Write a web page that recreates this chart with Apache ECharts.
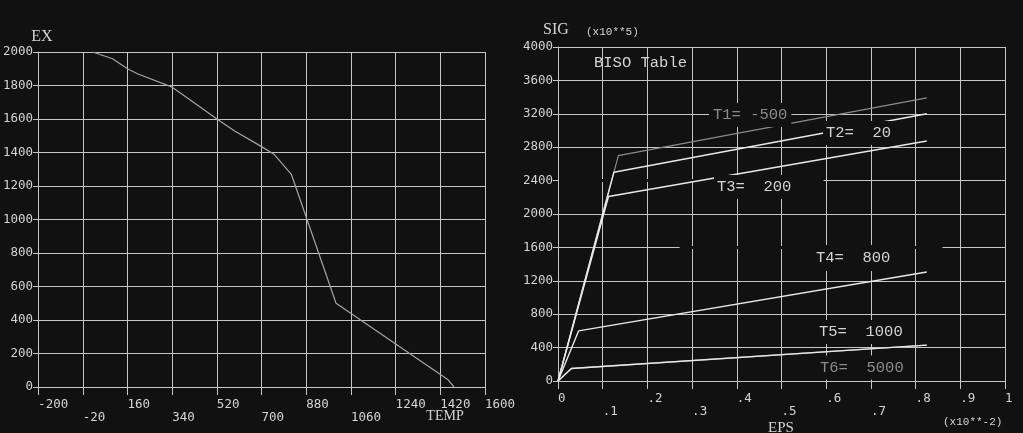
<!DOCTYPE html>
<html>
<head>
<meta charset="utf-8">
<script src="https://cdn.jsdelivr.net/npm/echarts/dist/echarts.min.js"></script>
<style>
html,body{margin:0;padding:0;background:#111111;}
#chart{width:1023px;height:433px;}
</style>
</head>
<body>
<div id="chart"></div>
<script>
// ---- Left chart: EX vs TEMP ----
const tempTickLabels = ['-200','-20','160','340','520','700','880','1060','1240','1420','1600'];
const exTickLabels = ['0','200','400','600','800','1000','1200','1400','1600','1800','2000'];
const temp = [20, 100, 160, 200, 340, 430, 520, 590, 700, 750, 820, 1000, 1450, 1475];
const ex   = [2000, 1960, 1900, 1870, 1790, 1695, 1600, 1530, 1435, 1390, 1270, 500, 45, 0];

// ---- Right chart: BISO table SIG vs EPS ----
const epsTickLabels = ['0','.1','.2','.3','.4','.5','.6','.7','.8','.9','1'];
const sigTickLabels = ['0','400','800','1200','1600','2000','2400','2800','3200','3600','4000'];
const curveNames = ['T1= -500','T2=  20','T3=  200','T4=  800','T5=  1000','T6=  5000'];
const epsT1 = [0, 0.135, 0.825], sigT1 = [0, 2700, 3390];
const epsT2 = [0, 0.125, 0.825], sigT2 = [0, 2500, 3200];
const epsT3 = [0, 0.113, 0.825], sigT3 = [0, 2210, 2875];
const epsT4 = [0, 0.046, 0.825], sigT4 = [0, 600, 1305];
const epsT5 = [0, 0.030, 0.825], sigT5 = [0, 150, 430];
const epsT6 = [0, 0.030, 0.825], sigT6 = [0, 150, 430];

const BG = '#111111';
const GRIDC = '#c6c6c6';
const TXT = '#d4d4d4';
const DIM = '#8c8c8c';
const tickFont = 'DejaVu Sans Mono';

function zip(a, b){ return a.map((v,i)=>[v,b[i]]); }

function xLabelFmt(labels){
  return function(v, i){
    const s = labels[i] !== undefined ? labels[i] : String(v);
    return (i % 2 === 1 && i !== 9) ? '\n' + s : s;
  };
}

const xAxisCommon = {
  type:'value',
  axisLine:{show:true, onZero:false, lineStyle:{color:GRIDC, width:1}},
  axisTick:{show:true, length:8, lineStyle:{color:GRIDC, width:1}},
  splitLine:{show:true, lineStyle:{color:GRIDC, width:1}},
  axisLabel:{color:TXT, fontFamily:tickFont, fontSize:12.5, align:'left', verticalAlign:'top', margin:11, lineHeight:13}
};
const yAxisCommon = {
  type:'value',
  axisLine:{show:true, onZero:false, lineStyle:{color:GRIDC, width:1}},
  axisTick:{show:true, length:5, lineStyle:{color:GRIDC, width:1}},
  splitLine:{show:true, lineStyle:{color:GRIDC, width:1}},
  axisLabel:{color:TXT, fontFamily:tickFont, fontSize:12.5, margin:5}
};

function lineSeries(xi, data, color, z, w){
  return {type:'line', xAxisIndex:xi, yAxisIndex:xi, data:data, showSymbol:false, symbol:'none',
    lineStyle:{color:color, width:w||1.4}, z:z||2, silent:true};
}

function label(text, x, y, opts){
  opts = opts || {};
  return {type:'text', x:x, y:y, z:opts.z || 10, silent:true,
    style:{text:text, fill:opts.color||TXT,
      font:(opts.size||15)+'px "'+(opts.family||'Liberation Mono')+'"',
      align:opts.align||'left', verticalAlign:'middle',
      backgroundColor:opts.bg||null, padding:opts.pad||0}};
}

const chart = echarts.init(document.getElementById('chart'), null, {renderer:'canvas'});
chart.setOption({
  backgroundColor:BG,
  animation:false,
  grid:[
    {left:37, top:52, width:448, height:335},
    {left:558, top:47, width:447, height:334}
  ],
  xAxis:[
    Object.assign({}, xAxisCommon, {gridIndex:0, min:-200, max:1600, interval:180,
      axisLabel:Object.assign({}, xAxisCommon.axisLabel, {formatter:xLabelFmt(tempTickLabels)})}),
    Object.assign({}, xAxisCommon, {gridIndex:1, min:0, max:1, interval:0.1,
      axisLabel:Object.assign({}, xAxisCommon.axisLabel, {formatter:xLabelFmt(epsTickLabels)})})
  ],
  yAxis:[
    Object.assign({}, yAxisCommon, {gridIndex:0, min:0, max:2000, interval:200,
      axisLabel:Object.assign({}, yAxisCommon.axisLabel, {formatter:(v,i)=>exTickLabels[i]})}),
    Object.assign({}, yAxisCommon, {gridIndex:1, min:0, max:4000, interval:400,
      axisLabel:Object.assign({}, yAxisCommon.axisLabel, {formatter:(v,i)=>sigTickLabels[i]})})
  ],
  series:[
    lineSeries(0, zip(temp, ex), '#a4a4a4', 2, 1.2),
    lineSeries(1, zip(epsT6, sigT6), DIM, 2),
    lineSeries(1, zip(epsT1, sigT1), DIM, 3, 1.2),
    lineSeries(1, zip(epsT2, sigT2), '#e8e8e8', 3),
    lineSeries(1, zip(epsT3, sigT3), '#e8e8e8', 3),
    lineSeries(1, zip(epsT4, sigT4), '#e8e8e8', 3),
    lineSeries(1, zip(epsT5, sigT5), '#e8e8e8', 3)
  ]
});

// Gridline segments erased behind the curve labels in the original plot
const gaps = [{sig:2400, from:0, to:0.594}, {sig:1600, from:0.27, to:0.86}];
const masks = gaps.map(function(g){
  const p1 = chart.convertToPixel({gridIndex:1}, [g.from, g.sig]);
  const p2 = chart.convertToPixel({gridIndex:1}, [g.to, g.sig]);
  return {type:'line', z:1, silent:true,
    shape:{x1:p1[0]+1, y1:p1[1], x2:p2[0], y2:p2[1]},
    style:{stroke:BG, lineWidth:3}};
});

const labels = [
  label('EX', 42, 37, {family:'Liberation Serif', size:16, align:'center'}),
  label('TEMP', 445, 416, {family:'Liberation Serif', size:14, align:'center'}),
  label('SIG', 556, 30, {family:'Liberation Serif', size:16, align:'center'}),
  label('(x10**5)', 586, 32, {size:11}),
  label('EPS', 781, 428, {family:'Liberation Serif', size:15, align:'center'}),
  label('(x10**-2)', 943, 422, {size:11}),
  label('BISO Table', 594, 63, {size:15.5}),
  label(curveNames[0], 709, 115, {size:15.5, color:DIM, bg:BG, pad:[5,4,3,4]}),
  label(curveNames[1], 823, 133, {size:15.5, bg:BG, pad:[4,3,4,3]}),
  label(curveNames[2], 714, 187, {size:15.5, bg:BG, pad:[4,3,4,3]}),
  label(curveNames[3], 812, 258, {size:15.5, bg:BG, pad:[5,4,5,4]}),
  label(curveNames[4], 815, 332, {size:15.5, bg:BG, pad:[4,4,4,4]}),
  label(curveNames[5], 816, 367.5, {size:15.5, color:DIM, bg:BG, pad:[4,4,4,4]})
];

chart.setOption({graphic:{elements: masks.concat(labels)}});
</script>
</body>
</html>
